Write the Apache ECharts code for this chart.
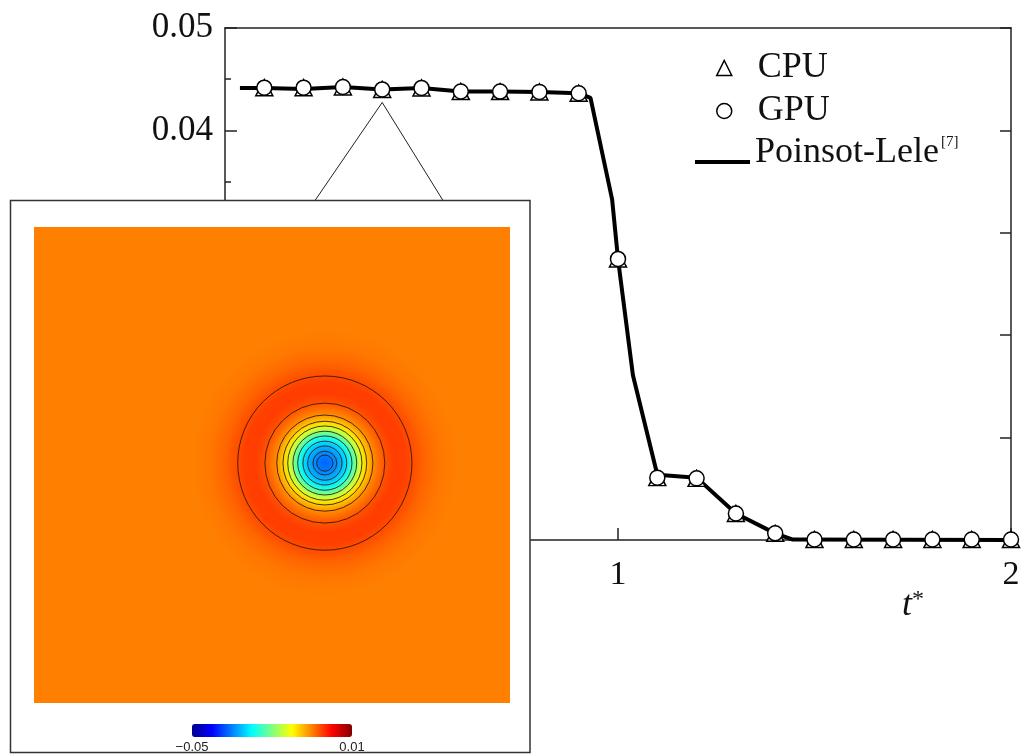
<!DOCTYPE html>
<html><head><meta charset="utf-8">
<script src="https://cdn.jsdelivr.net/npm/echarts@6/dist/echarts.min.js"></script>
<style>html,body{margin:0;padding:0;background:#fff}#c{width:1024px;height:754px}</style>
</head><body><div id="c"></div>
<script>
// ---- main plot data ----
const tSample = [0.1,0.2,0.3,0.4,0.5,0.6,0.7,0.8,0.9,1.0,1.1,1.2,1.3,1.4,1.5,1.6,1.7,1.8,1.9,2.0];
const cpuVals = [0.04417,0.04417,0.04424,0.04400,0.04415,0.04380,0.04379,0.04376,0.04363,0.02745,0.00609,0.00602,0.00259,0.00065,0.00005,0.00005,0.00005,0.00005,0.00005,0.00005];
const gpuVals = [0.04417,0.04417,0.04424,0.04400,0.04415,0.04380,0.04379,0.04376,0.04363,0.02745,0.00609,0.00602,0.00259,0.00065,0.00005,0.00005,0.00005,0.00005,0.00005,0.00005];
const refT = [0.038,0.1,0.2,0.3,0.4,0.5,0.6,0.7,0.8,0.9,0.93,0.985,1.0,1.038,1.1,1.2,1.3,1.4,1.445,2.0];
const refP = [0.04415,0.04415,0.04405,0.04424,0.04400,0.04415,0.04380,0.04379,0.04376,0.04363,0.04317,0.03327,0.02745,0.01609,0.00637,0.00609,0.00259,0.00065,0.00004,0.0];
const markerNames = ['CPU','GPU'];
const lineName = 'Poinsot-Lele';
// ---- inset field data (radial profile around vortex centre, inset units 0..10) ----
const vortexCentre = [6.11, 5.04];
const fieldR = [0,0.11,0.21,0.32,0.42,0.53,0.63,0.74,0.84,0.95,1.05,1.18,1.30,1.47,1.68,1.85,2.10,2.42,2.84];
const fieldV = [-0.0366,-0.0358,-0.0343,-0.0325,-0.0300,-0.0262,-0.0210,-0.0150,-0.0105,-0.0075,-0.0052,-0.0034,-0.0020,-0.0011,-0.0012,-0.0020,-0.0034,-0.0045,-0.0050];
const backgroundV = -0.0050;
const contourR = [0.17,0.25,0.36,0.46,0.57,0.67,0.78,0.88,1.01,1.26,1.83];
const colorbarLabels = ['\u22120.05','0.01'];
const vMin = -0.05, vMax = 0.01;
const jet = ['#00008F','#0000FF','#0080FF','#00FFFF','#80FF80','#FFFF00','#FF8000','#FF0000','#800000'];

function jetColor(v){
  let f = (v - vMin) / (vMax - vMin);
  f = Math.max(0, Math.min(1, f));
  if (echarts.color && echarts.color.lerp) return echarts.color.lerp(f, jet);
  return jet[Math.round(f*(jet.length-1))];
}

const serif = "'Liberation Serif','Times New Roman',serif";
const axisLine = {show:true, onZero:false, lineStyle:{color:'#222', width:1.5}};
const chart = echarts.init(document.getElementById('c'), null, {renderer:'canvas'});

const option = {
  animation:false,
  backgroundColor:'#fff',
  grid:[
    {left:225, right:13, top:28, bottom:214},
    {left:34, top:227, width:476, height:476}
  ],
  xAxis:[
    {type:'value', gridIndex:0, min:0, max:2, interval:1, position:'bottom',
     axisLine:axisLine,
     axisTick:{show:true, inside:true, length:12, lineStyle:{color:'#222', width:1.5}},
     axisLabel:{margin:18, fontFamily:serif, fontSize:34, color:'#111', formatter:v => v === 0 ? '' : String(v)},
     splitLine:{show:false}},
    {type:'value', gridIndex:0, min:0, max:2, position:'top',
     axisLine:axisLine, axisTick:{show:false}, axisLabel:{show:false}, splitLine:{show:false}},
    {type:'value', gridIndex:1, min:0, max:10, show:false}
  ],
  yAxis:[
    {type:'value', gridIndex:0, min:0, max:0.05, interval:0.01, position:'left',
     axisLine:axisLine,
     axisTick:{show:true, inside:true, length:12, lineStyle:{color:'#222', width:1.5}},
     minorTick:{show:true, splitNumber:2, length:6, lineStyle:{color:'#222', width:1.5}},
     axisLabel:{margin:12, fontFamily:serif, fontSize:35, color:'#111', formatter:v => v.toFixed(2)},
     splitLine:{show:false}},
    {type:'value', gridIndex:0, min:0, max:0.05, interval:0.01, position:'right',
     axisLine:axisLine,
     axisTick:{show:true, inside:true, length:11, lineStyle:{color:'#222', width:1.5}},
     axisLabel:{show:false}, splitLine:{show:false}},
    {type:'value', gridIndex:1, min:0, max:10, show:false}
  ],
  legend:[
    {data:markerNames, orient:'vertical', left:711, top:45,
     itemWidth:15, itemHeight:15, itemGap:7, symbolKeepAspect:true,
     itemStyle:{borderWidth:1.5, borderColor:'#000', color:'#fff'},
     textStyle:{fontFamily:serif, fontSize:36, color:'#111', padding:[0,0,14,21]}},
    {data:[{name:lineName, icon:'rect'}], orient:'vertical', left:690, top:130,
     itemWidth:55, itemHeight:4,
     itemStyle:{color:'#000', borderWidth:0},
     formatter:n => '{n|' + n + '}{s|[7]}',
     textStyle:{fontFamily:serif, fontSize:36, color:'#111', padding:[0,0,18,0],
       rich:{n:{fontFamily:serif, fontSize:36, color:'#111'},
             s:{fontFamily:serif, fontSize:15, color:'#111', verticalAlign:'top', padding:[0,0,0,2]}}}}
  ],
  visualMap:{
    type:'continuous', min:vMin, max:vMax, orient:'horizontal', left:192, top:724,
    itemWidth:13, itemHeight:160, calculable:false, showLabel:false, padding:0,
    inRange:{color:jet}, seriesIndex:4, dimension:2, z:7, hoverLink:false
  },
  series:[
    {name:lineName, type:'line', xAxisIndex:0, yAxisIndex:0, z:2,
     data:refT.map((t,i) => [t, refP[i]]), symbol:'none', showSymbol:false,
     lineStyle:{color:'#000', width:4}, itemStyle:{color:'#000'}},
    {name:'CPU', type:'scatter', xAxisIndex:0, yAxisIndex:0, z:3,
     data:tSample.map((t,i) => [t, cpuVals[i]]), symbol:'triangle', symbolSize:[17,16],
     itemStyle:{color:'#fff', borderColor:'#000', borderWidth:1.5, opacity:1}},
    {name:'GPU', type:'scatter', xAxisIndex:0, yAxisIndex:0, z:4,
     data:tSample.map((t,i) => [t, gpuVals[i]]), symbol:'circle', symbolSize:15,
     itemStyle:{color:'#fff', borderColor:'#000', borderWidth:1.5, opacity:1}},
    {type:'custom', xAxisIndex:2, yAxisIndex:2, z:6, silent:true,
     data:[[0,10,backgroundV]],
     renderItem:function(params, api){
       const p = api.coord([0,10]);
       const s = api.size([10,10]);
       return {type:'rect', shape:{x:p[0], y:p[1], width:s[0], height:s[1]}, style:{fill:jetColor(api.value(2))}};
     }},
    {type:'custom', xAxisIndex:2, yAxisIndex:2, z:6, silent:true,
     data:[[vortexCentre[0], vortexCentre[1], fieldV[0]]],
     renderItem:function(params, api){
       const c = api.coord([api.value(0), api.value(1)]);
       const rMax = fieldR[fieldR.length-1];
       const R = api.size([rMax, 0])[0];
       const stops = fieldR.map((r,i) => ({offset:r/rMax, color:jetColor(fieldV[i])}));
       return {type:'circle', shape:{cx:c[0], cy:c[1], r:R},
               style:{fill:{type:'radial', x:0.5, y:0.5, r:0.5, colorStops:stops}}};
     }},
    {type:'custom', xAxisIndex:2, yAxisIndex:2, z:6, silent:true,
     data:contourR.map(r => [vortexCentre[0], vortexCentre[1], r]),
     renderItem:function(params, api){
       const c = api.coord([api.value(0), api.value(1)]);
       const R = api.size([api.value(2), 0])[0];
       return {type:'circle', shape:{cx:c[0], cy:c[1], r:R},
               style:{fill:null, stroke:'rgba(45,20,10,0.85)', lineWidth:1}};
     }}
  ]
};
chart.setOption(option);

const apex = chart.convertToPixel({xAxisIndex:0, yAxisIndex:0}, [tSample[3], gpuVals[3]]);
chart.setOption({
  graphic:[
    {id:'box', type:'rect', z:5, silent:true,
     shape:{x:10.5, y:200.5, width:519.5, height:552},
     style:{fill:'#fff', stroke:'#333', lineWidth:1.5}},
    {id:'conn', type:'polyline', z:5, silent:true,
     shape:{points:[[315,200.5],[apex[0], apex[1]+13],[443,200.5]]},
     style:{fill:null, stroke:'#222', lineWidth:1}},
    {id:'cb0', type:'text', z:8, x:192, y:741,
     style:{text:colorbarLabels[0], fill:'#222', font:"13px 'Liberation Sans', Arial, sans-serif", textAlign:'center', textVerticalAlign:'top'}},
    {id:'cb1', type:'text', z:8, x:352, y:741,
     style:{text:colorbarLabels[1], fill:'#222', font:"13px 'Liberation Sans', Arial, sans-serif", textAlign:'center', textVerticalAlign:'top'}},
    {id:'tname', type:'text', z:8, x:902, y:588,
     style:{text:'{t|t}{s|*}', rich:{
       t:{fontFamily:serif, fontStyle:'italic', fontSize:36, fill:'#111'},
       s:{fontFamily:serif, fontSize:24, fill:'#111', verticalAlign:'top'}}}}
  ]
});
</script></body></html>
